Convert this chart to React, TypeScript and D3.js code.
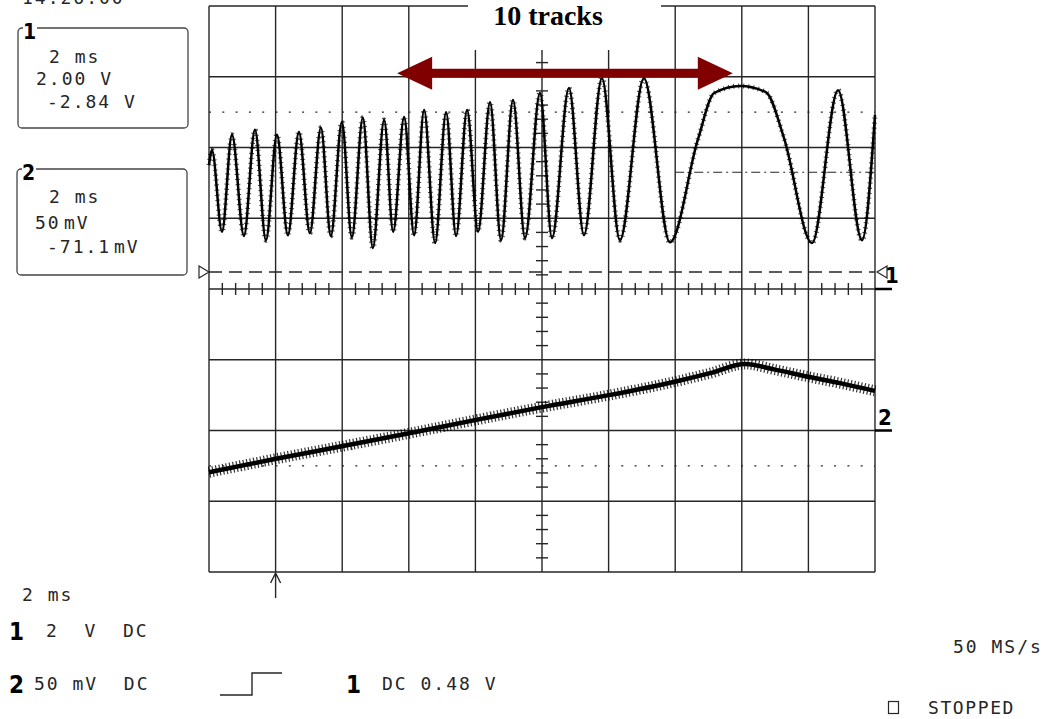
import React, { useEffect, useRef } from 'react';
import * as d3 from 'd3';

// horizontal: 2 ms/div over 10 divisions, vertical: 8 screen divisions
const timeMs = [0, 20];
const levelDiv = [-4, 4];

// channel 1 turning points (time in ms, level in divisions from centre)
const ch1Time = [0, 0.09, 0.39, 0.69, 1.05, 1.38, 1.71, 2.04, 2.37, 2.7, 3.03, 3.36, 3.66, 3.99, 4.29, 4.62, 4.92, 5.26, 5.53, 5.86, 6.16, 6.46, 6.79, 7.12, 7.42, 7.75, 8.08, 8.44, 8.77, 9.13, 9.49, 9.94, 10.3, 10.81, 11.26, 11.8, 12.34, 13.06, 13.84, 14.68, 15.17, 15.95, 16.73, 17.27, 18.11, 18.89, 19.61, 20];
const ch1Level = [1.75, 1.96, 0.81, 2.18, 0.75, 2.25, 0.69, 2.18, 0.76, 2.22, 0.79, 2.28, 0.75, 2.36, 0.73, 2.42, 0.58, 2.39, 0.81, 2.43, 0.76, 2.53, 0.65, 2.5, 0.75, 2.53, 0.81, 2.64, 0.69, 2.67, 0.72, 2.77, 0.72, 2.84, 0.76, 2.98, 0.69, 2.98, 0.66, 2.11, 2.77, 2.87, 2.78, 2.13, 0.65, 2.81, 0.69, 2.46];

// channel 2 slow ramp
const ch2Time = [0, 2.01, 4.02, 6.01, 8.02, 10, 12.01, 13.99, 15.05, 16.1, 17, 17.99, 18.95, 20];
const ch2Level = [-2.59, -2.4, -2.22, -2.04, -1.85, -1.67, -1.5, -1.31, -1.19, -1.06, -1.14, -1.24, -1.33, -1.44];

// reference levels (divisions)
const ch1Ground = 0.24;
const ch1Marker = 0;
const ch2Marker = -2;
const dottedLevels = [2.5, -2.5];
const dashDotLevel = 1.65;
const dashDotStart = 14;
const triggerTime = 2;

// annotation
const titleText = '10 tracks';
const arrowSpan = [5.65, 15.73];
const arrowLevel = 3.05;

// readouts
const ch1Box = ['2 ms', '2.00 V', '-2.84 V'];
const ch2Box = ['2 ms', '50', 'mV', '-71.1', 'mV'];
const timebase = '2 ms';
const ch1Setting = '2  V  DC';
const ch2Setting = '50 mV  DC';
const triggerSetting = 'DC 0.48 V';
const sampleRate = '50 MS/s';
const runState = 'STOPPED';
const clockText = '14:26:00';

function App() {
  const ref = useRef<SVGSVGElement>(null);

  useEffect(() => {
    const svg = d3.select(ref.current);
    svg.selectAll('*').remove();

    const x = d3.scaleLinear().domain(timeMs).range([209, 875]);
    const y = d3.scaleLinear().domain(levelDiv).range([572, 6]);
    const ink = '#262626';
    const mono = "'DejaVu Sans Mono', 'Liberation Mono', monospace";
    const boldFont = "'DejaVu Sans Condensed', 'DejaVu Sans', sans-serif";

    // graticule
    const grid = svg.append('g').attr('stroke', ink).attr('stroke-width', 1.4);
    grid.selectAll('line.v').data(d3.range(0, 21, 2)).join('line').attr('class', 'v')
      .attr('x1', (d) => x(d)).attr('x2', (d) => x(d))
      .attr('y1', y(4)).attr('y2', y(-4));
    grid.selectAll('line.h').data(d3.range(-4, 5, 1)).join('line').attr('class', 'h')
      .attr('x1', x(0)).attr('x2', x(20))
      .attr('y1', (d) => y(d)).attr('y2', (d) => y(d));

    // minor ticks on the centre axes
    const isMinor = (v: number, step: number) => Math.abs(v / step - Math.round(v / step)) > 1e-6;
    grid.selectAll('line.tx').data(d3.range(0, 20.001, 0.4).filter((t) => isMinor(t, 2))).join('line').attr('class', 'tx')
      .attr('x1', (d) => x(d)).attr('x2', (d) => x(d))
      .attr('y1', y(0) - 6).attr('y2', y(0) + 6);
    grid.selectAll('line.ty').data(d3.range(-4, 4.001, 0.2).filter((v) => isMinor(v, 1))).join('line').attr('class', 'ty')
      .attr('x1', x(10) - 6).attr('x2', x(10) + 6)
      .attr('y1', (d) => y(d)).attr('y2', (d) => y(d));

    // dotted and dashed reference lines
    svg.append('g').selectAll('line').data(dottedLevels).join('line')
      .attr('x1', x(0)).attr('x2', x(20))
      .attr('y1', (d) => y(d)).attr('y2', (d) => y(d))
      .attr('stroke', ink).attr('stroke-width', 1.2).attr('stroke-dasharray', '2 11.3');
    svg.append('line')
      .attr('x1', x(dashDotStart)).attr('x2', x(20))
      .attr('y1', y(dashDotLevel)).attr('y2', y(dashDotLevel))
      .attr('stroke', ink).attr('stroke-width', 1.2).attr('stroke-dasharray', '9 4 2 4');
    svg.append('line')
      .attr('x1', x(0)).attr('x2', x(20))
      .attr('y1', y(ch1Ground)).attr('y2', y(ch1Ground))
      .attr('stroke', ink).attr('stroke-width', 1.4).attr('stroke-dasharray', '13 7');

    // traces
    const ch1 = ch1Time.map((t, i) => [t, ch1Level[i]] as [number, number]);
    const ch2 = ch2Time.map((t, i) => [t, ch2Level[i]] as [number, number]);
    const line1 = d3.line<[number, number]>().x((d) => x(d[0])).y((d) => y(d[1])).curve(d3.curveMonotoneX);
    const line2 = d3.line<[number, number]>().x((d) => x(d[0])).y((d) => y(d[1])).curve(d3.curveMonotoneX);
    svg.append('path').attr('d', line1(ch1)).attr('fill', 'none').attr('stroke', '#000').attr('stroke-width', 2.5);
    svg.append('path').attr('d', line1(ch1)).attr('fill', 'none').attr('stroke', '#000').attr('stroke-width', 5)
      .attr('stroke-dasharray', '1 4').attr('opacity', 0.7);
    svg.append('path').attr('d', line2(ch2)).attr('fill', 'none').attr('stroke', '#000').attr('stroke-width', 4.5);
    svg.append('path').attr('d', line2(ch2)).attr('fill', 'none').attr('stroke', '#000').attr('stroke-width', 11)
      .attr('stroke-dasharray', '1.2 2.3').attr('opacity', 0.8);

    // title panel and arrow
    svg.append('rect').attr('x', 468).attr('y', 0).attr('width', 193).attr('height', 50).attr('fill', '#fff');
    svg.append('text').attr('x', 548).attr('y', 25).attr('text-anchor', 'middle')
      .attr('font-family', "'Liberation Serif', 'Times New Roman', serif").attr('font-weight', 'bold')
      .attr('font-size', 28).attr('fill', '#000').text(titleText);
    const ax0 = x(arrowSpan[0]);
    const ax1 = x(arrowSpan[1]);
    const ay = y(arrowLevel);
    const head = 35;
    svg.append('path')
      .attr('d', `M${ax0},${ay} L${ax0 + head},${ay - 16.5} L${ax0 + head},${ay - 4.5} L${ax1 - head},${ay - 4.5} L${ax1 - head},${ay - 16.5} L${ax1},${ay} L${ax1 - head},${ay + 16.5} L${ax1 - head},${ay + 4.5} L${ax0 + head},${ay + 4.5} L${ax0 + head},${ay + 16.5} Z`)
      .attr('fill', '#800000');

    // channel markers
    const gy = y(ch1Ground);
    svg.append('path').attr('d', `M199,${gy - 6} L209,${gy} L199,${gy + 6} Z`).attr('fill', '#fff').attr('stroke', ink).attr('stroke-width', 1.2);
    svg.append('path').attr('d', `M887,${gy - 6} L877,${gy} L887,${gy + 6} Z`).attr('fill', '#fff').attr('stroke', ink).attr('stroke-width', 1.2);
    const marker = (label: string, lvl: number, tx: number, base: number) => {
      svg.append('line').attr('x1', 875).attr('x2', 892).attr('y1', y(lvl)).attr('y2', y(lvl)).attr('stroke', '#000').attr('stroke-width', 2.5);
      svg.append('text').attr('x', tx).attr('y', base).attr('font-family', boldFont).attr('font-weight', 'bold')
        .attr('font-size', 22).attr('fill', '#000').text(label);
    };
    marker('1', ch1Marker, 885, 283);
    marker('2', ch2Marker, 878, 425);

    // trigger position arrow
    const tx = x(triggerTime);
    svg.append('path').attr('d', `M${tx},573 L${tx},598 M${tx - 5},583 L${tx},573 L${tx + 5},583`)
      .attr('fill', 'none').attr('stroke', ink).attr('stroke-width', 1.4);

    // readout text helper
    const mtext = (str: string, tx0: number, base: number, size = 18, ls = 2) =>
      svg.append('text').attr('x', tx0).attr('y', base).attr('font-family', mono).attr('font-size', size)
        .attr('letter-spacing', ls).attr('fill', ink).style('white-space', 'pre').text(str);
    const btext = (str: string, tx0: number, base: number, size: number) =>
      svg.append('text').attr('x', tx0).attr('y', base).attr('font-family', boldFont).attr('font-weight', 'bold')
        .attr('font-size', size).attr('fill', '#000').text(str);

    // clock, clipped at the top edge as in the capture
    mtext(clockText, 22, 4);

    // channel boxes
    const box = (bx: number, by: number, bh: number, label: string) => {
      svg.append('rect').attr('x', bx).attr('y', by).attr('width', 170).attr('height', bh).attr('rx', 4)
        .attr('fill', 'none').attr('stroke', '#444').attr('stroke-width', 1.3);
      svg.append('rect').attr('x', bx + 5).attr('y', by - 6).attr('width', 14).attr('height', 12).attr('fill', '#fff');
      btext(label, bx + 5, by + 11, 21);
    };
    box(18, 28, 100, '1');
    mtext(ch1Box[0], 49, 63);
    mtext(ch1Box[1], 36, 85);
    mtext(ch1Box[2], 47, 108);
    box(17, 169, 106, '2');
    mtext(ch2Box[0], 49, 203);
    mtext(ch2Box[1], 35, 229);
    mtext(ch2Box[2], 64, 229);
    mtext(ch2Box[3], 47, 253);
    mtext(ch2Box[4], 114, 253);

    // bottom readouts
    mtext(timebase, 22, 601);
    btext('1', 9, 640, 24);
    mtext(ch1Setting, 46, 637);
    btext('2', 9, 693, 24);
    mtext(ch2Setting, 34, 690);
    svg.append('path').attr('d', 'M220,695 L252,695 L252,673 L282,673').attr('fill', 'none').attr('stroke', ink).attr('stroke-width', 1.4);
    btext('1', 346, 693, 24);
    mtext(triggerSetting, 382, 690);
    mtext(sampleRate, 953, 653);
    svg.append('rect').attr('x', 888.5).attr('y', 701.5).attr('width', 10).attr('height', 12).attr('fill', 'none').attr('stroke', ink).attr('stroke-width', 1.2);
    mtext(runState, 928, 714, 18, 1.6);
  }, []);

  return (
    <svg ref={ref} width={1052} height={719} style={{ position: 'absolute', left: 0, top: 0, background: '#fff' }}></svg>
  );
}

export default App;
